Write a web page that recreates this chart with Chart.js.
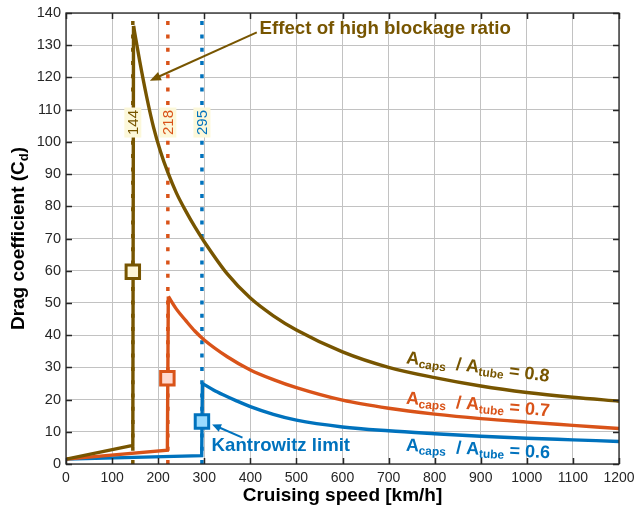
<!DOCTYPE html>
<html>
<head>
<meta charset="utf-8">
<script src="https://cdn.jsdelivr.net/npm/chart.js@4/dist/chart.umd.min.js"></script>
<style>
html,body{margin:0;padding:0;background:#fff;}
#wrap{width:634px;height:516px;}
</style>
</head>
<body>
<div id="wrap"><canvas id="c" width="634" height="516"></canvas></div>
<script>
// ---- data ----
const xTickValues = [0,100,200,300,400,500,600,700,800,900,1000,1100,1200];
const yTickValues = [0,10,20,30,40,50,60,70,80,90,100,110,120,130,140];

// below the Kantrowitz limit (straight segments + jump)
const brownPreX = [0, 145, 146.5];
const brownPreY = [1.5, 5.8, 136];
const orangePreX = [0, 220, 222];
const orangePreY = [1.5, 4.3, 52];
const bluePreX = [0, 294.5, 296];
const bluePreY = [1.5, 2.6, 25];

// above the limit (decaying curves)
const brownX = [146.5, 160, 175, 190, 205, 221, 240, 260, 280, 300, 350, 400, 450, 500, 600, 700, 800, 900, 1000, 1100, 1200];
const brownY = [136, 125, 114, 104.5, 97, 90.5, 84, 78.5, 73.5, 69, 59, 51.5, 46, 41.6, 34.8, 30, 26.8, 24.2, 22.2, 20.7, 19.5];
const orangeX = [222, 240, 260, 280, 300, 350, 400, 450, 500, 600, 700, 800, 900, 1000, 1100, 1200];
const orangeY = [52, 48, 44.5, 41.2, 38.5, 33.3, 29.2, 26.2, 23.7, 19.8, 17.3, 15.5, 14.1, 13, 12, 11];
const blueX = [296, 320, 341, 370, 400, 450, 500, 600, 700, 800, 900, 1000, 1100, 1200];
const blueY = [25, 23.0, 21.5, 19.6, 17.8, 15.4, 13.6, 11.5, 10.3, 9.4, 8.6, 8.0, 7.5, 7.0];

const limitX = [145, 221, 295];
const limitLabels = ['144', '218', '295'];
const markerX = [145, 220, 295];
const markerY = [59.7, 26.6, 13.2];
const ratioLabels = ['0.8', '0.7', '0.6'];

const COLORS = ['#775500', '#D95319', '#0072BD'];
const FILLS = ['#FFF7D8', '#FFD8CE', '#99DBFF'];
const FONT = '"Liberation Sans", Arial, Helvetica, sans-serif';

function pts(xs, ys){ return xs.map((v,i)=>({x:v, y:ys[i]})); }

const datasets = [];
datasets.push({
  type:'scatter', data: pts(markerX, markerY),
  pointStyle:'rect', pointRadius:9.5, pointBorderWidth:3,
  pointBackgroundColor: FILLS, pointBorderColor: COLORS, order:0
});
[[brownPreX,brownPreY],[orangePreX,orangePreY],[bluePreX,bluePreY]].forEach((s,i)=>{
  datasets.push({type:'line', data: pts(s[0], s[1]), borderColor: COLORS[i], borderWidth:3.4,
    pointRadius:0, tension:0, borderJoinStyle:'miter', fill:false, order:1});
});
[[brownX,brownY],[orangeX,orangeY],[blueX,blueY]].forEach((s,i)=>{
  datasets.push({type:'line', data: pts(s[0], s[1]), borderColor: COLORS[i], borderWidth:3.4,
    pointRadius:0, cubicInterpolationMode:'monotone', fill:false, order:1});
});
limitX.forEach((v,i)=>{
  datasets.push({type:'line', data:[{x:v,y:0},{x:v,y:140}], borderColor: COLORS[i], borderWidth:3.5,
    borderDash:[4,9.3], borderCapStyle:'butt', pointRadius:0, fill:false, order:2});
});

function arrow(ctx, x1, y1, x2, y2, color, len, half){
  const ang = Math.atan2(y2-y1, x2-x1);
  ctx.save();
  ctx.strokeStyle = color; ctx.fillStyle = color; ctx.lineWidth = 2;
  ctx.beginPath(); ctx.moveTo(x1,y1);
  ctx.lineTo(x2 - Math.cos(ang)*len*0.8, y2 - Math.sin(ang)*len*0.8); ctx.stroke();
  ctx.translate(x2,y2); ctx.rotate(ang);
  ctx.beginPath(); ctx.moveTo(0,0); ctx.lineTo(-len, -half); ctx.lineTo(-len, half); ctx.closePath(); ctx.fill();
  ctx.restore();
}

function richText(ctx, parts, color){
  let x = 0;
  parts.forEach(p=>{
    ctx.font = 'bold ' + p.s + 'px ' + FONT;
    ctx.fillStyle = color;
    ctx.fillText(p.t, x, p.dy || 0);
    x += ctx.measureText(p.t).width;
  });
  return x;
}
function richWidth(ctx, parts){
  let w = 0;
  parts.forEach(p=>{ ctx.font = 'bold ' + p.s + 'px ' + FONT; w += ctx.measureText(p.t).width; });
  return w;
}

const custom = {
  id:'custom',
  afterDatasetsDraw(chart){
    const {ctx, scales:{x, y}} = chart;
    limitX.forEach((v,i)=>{
      const px = x.getPixelForValue(v), py = y.getPixelForValue(106);
      ctx.save(); ctx.translate(px, py); ctx.rotate(-Math.PI/2);
      ctx.font = '15px ' + FONT;
      const w = ctx.measureText(limitLabels[i]).width;
      ctx.fillStyle = '#FCF8DA';
      ctx.fillRect(-w/2 - 2.5, -8.5, w + 5, 17);
      ctx.fillStyle = COLORS[i]; ctx.textAlign = 'center'; ctx.textBaseline = 'middle';
      ctx.fillText(limitLabels[i], 0, 1);
      ctx.restore();
    });
    ctx.save();
    arrow(ctx, x.getPixelForValue(414), y.getPixelForValue(134), x.getPixelForValue(182), y.getPixelForValue(119), COLORS[0], 11, 4.5);
    ctx.font = 'bold 18.7px ' + FONT; ctx.fillStyle = COLORS[0];
    ctx.textBaseline = 'middle'; ctx.textAlign = 'left';
    ctx.fillText('Effect of high blockage ratio', x.getPixelForValue(420), y.getPixelForValue(135));
    ctx.restore();
    ctx.save();
    arrow(ctx, x.getPixelForValue(383), y.getPixelForValue(8.2), x.getPixelForValue(317), y.getPixelForValue(12.3), COLORS[2], 9, 4);
    ctx.font = 'bold 18.6px ' + FONT; ctx.fillStyle = COLORS[2];
    ctx.textBaseline = 'middle'; ctx.textAlign = 'left';
    ctx.fillText('Kantrowitz limit', x.getPixelForValue(316), y.getPixelForValue(5.6));
    ctx.restore();
    const base = [31.3, 18.7, 4.1], ang = [7.4, 5, 3];
    ratioLabels.forEach((r,i)=>{
      ctx.save();
      ctx.translate(x.getPixelForValue(737), y.getPixelForValue(base[i]));
      ctx.rotate(ang[i]*Math.PI/180);
      ctx.textBaseline = 'alphabetic'; ctx.textAlign = 'left';
      richText(ctx, [{t:'A',s:18},{t:'caps',s:12,dy:3},{t:'  / A',s:18},{t:'tube',s:12,dy:3},{t:' = ' + r,s:18}], COLORS[i]);
      ctx.restore();
    });
  },
  afterDraw(chart){
    const {ctx, chartArea:a, scales:{x, y}} = chart;
    ctx.save();
    ctx.strokeStyle = '#262626'; ctx.lineWidth = 1.5;
    ctx.beginPath();
    xTickValues.forEach(v=>{
      const px = Math.round(x.getPixelForValue(v)) + 0.5;
      ctx.moveTo(px, a.bottom); ctx.lineTo(px, a.bottom - 6);
      ctx.moveTo(px, a.top); ctx.lineTo(px, a.top + 6);
    });
    yTickValues.forEach(v=>{
      const py = Math.round(y.getPixelForValue(v)) + 0.5;
      ctx.moveTo(a.left, py); ctx.lineTo(a.left + 6, py);
      ctx.moveTo(a.right, py); ctx.lineTo(a.right - 6, py);
    });
    ctx.stroke();
    ctx.lineWidth = 1.3;
    ctx.strokeRect(a.left, a.top, a.right - a.left, a.bottom - a.top);
    ctx.fillStyle = '#000';
    ctx.font = 'bold 19px ' + FONT; ctx.textAlign = 'center'; ctx.textBaseline = 'middle';
    ctx.fillText('Cruising speed [km/h]', (a.left + a.right)/2, 496);
    const parts = [{t:'Drag coefficient (C',s:19},{t:'d',s:13,dy:4},{t:')',s:19}];
    const w = richWidth(ctx, parts);
    ctx.translate(24, (a.top + a.bottom)/2); ctx.rotate(-Math.PI/2);
    ctx.textAlign = 'left'; ctx.textBaseline = 'alphabetic';
    ctx.translate(-w/2, 0);
    richText(ctx, parts, '#000');
    ctx.restore();
  }
};

new Chart(document.getElementById('c'), {
  data: { datasets },
  options: {
    responsive:false, animation:false, events:[],
    layout:{ padding:{ top:13, right:15, left:0, bottom:0 } },
    plugins:{ legend:{display:false}, tooltip:{enabled:false} },
    scales:{
      x:{ type:'linear', min:0, max:1200,
        afterBuildTicks(s){ s.ticks = xTickValues.map(v=>({value:v})); },
        afterFit(s){ s.height = 52; s.paddingLeft = 0; s.paddingRight = 0; },
        grid:{ color:'#c2c2c2', lineWidth:1, drawTicks:false },
        border:{ display:false },
        ticks:{ padding:6, color:'#262626', font:{ family: FONT, size:14 }, maxRotation:0, autoSkip:false,
          callback:(v)=>String(v) }
      },
      y:{ type:'linear', min:0, max:140,
        afterBuildTicks(s){ s.ticks = yTickValues.map(v=>({value:v})); },
        afterFit(s){ s.width = 66; s.paddingTop = 0; s.paddingBottom = 0; },
        grid:{ color:'#c2c2c2', lineWidth:1, drawTicks:false },
        border:{ display:false },
        ticks:{ padding:5, color:'#262626', font:{ family: FONT, size:14.5 }, autoSkip:false,
          callback:(v)=>String(v) }
      }
    }
  },
  plugins:[custom]
});
</script>
</body>
</html>
